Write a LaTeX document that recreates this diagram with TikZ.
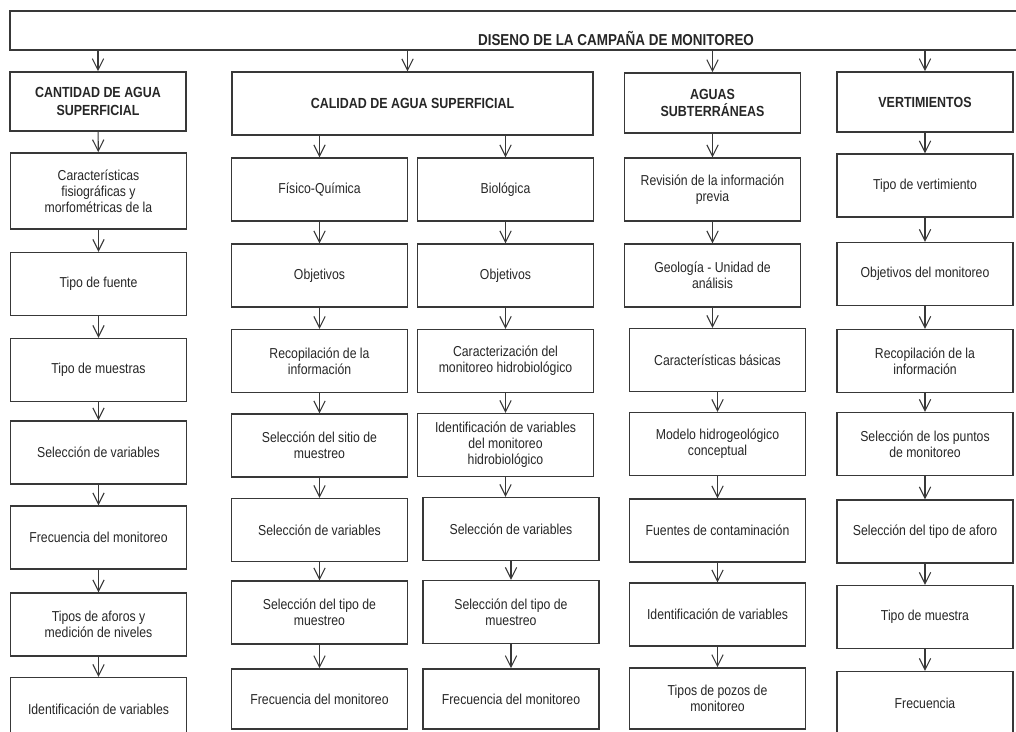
\documentclass[tikz,border=0pt]{standalone}
\usepackage{fontspec}
\setmainfont{Liberation Sans}[FakeStretch=0.85]
\usetikzlibrary{arrows.meta}
\definecolor{linegray}{HTML}{383838}

\begin{document}
\begin{tikzpicture}[x=0.03cm,y=-0.03cm,
	>={Straight Barb[length=3.4mm,width=3.4mm]},
	box/.style={shape=rectangle,draw=linegray,line width=1.4pt,minimum width=5.28cm,minimum height=1.88cm,align=center,inner sep=1pt,text=black!85,font=\fontsize{12.3}{13.6}\selectfont},
	head/.style={box,font=\bfseries\fontsize{12.5}{15}\selectfont},
	link/.style={->,draw=linegray,line width=0.9pt}]
	\useasboundingbox (0,0) rectangle (1016,731);
	\clip (0,0) rectangle (1016,731);
	\node[head,minimum width=36.36cm,minimum height=1.17cm,text height=0.87cm,text depth=0cm,font=\bfseries\fontsize{13.5}{15}\selectfont](top) at (616,30.5) {DISENO DE LA CAMPAÑA DE MONITOREO};
	% encabezados
	\node[head,minimum height=1.77cm](h1) at (98,101.5) {CANTIDAD DE AGUA\\SUPERFICIAL};
	\node[head,minimum width=10.83cm](cal) at (412.5,103.5) {CALIDAD DE AGUA SUPERFICIAL};
	\node[head,minimum height=1.8cm](sub) at (712.5,103) {AGUAS\\SUBTERRÁNEAS};
	\node[head,minimum height=1.8cm](ver) at (925,102) {VERTIMIENTOS};
	% cantidad
	\node[box,minimum height=2.28cm](c1) at (98.5,191) {Características\\fisiográficas y\\morfométricas de la};
	\node[box](c2) at (98.5,284) {Tipo de fuente};
	\node[box](c3) at (98.5,370) {Tipo de muestras};
	\node[box](c4) at (98.5,452.5) {Selección de variables};
	\node[box](c5) at (98.5,537.5) {Frecuencia del monitoreo};
	\node[box](c6) at (98.5,624.5) {Tipos de aforos y\\medición de niveles};
	\node[box](c7) at (98.5,709) {Identificación de variables};
	% fisico-quimica
	\node[box](f1) at (319.5,189.5) {Físico-Química};
	\node[box](f2) at (319.5,275.5) {Objetivos};
	\node[box](f3) at (319.5,361) {Recopilación de la\\información};
	\node[box](f4) at (319.5,445.5) {Selección del sitio de\\muestreo};
	\node[box](f5) at (319.5,530) {Selección de variables};
	\node[box](f6) at (319.5,612.5) {Selección del tipo de\\muestreo};
	\node[box,minimum height=1.8cm](f7) at (319.5,699) {Frecuencia del monitoreo};
	% biologica
	\node[box](b1) at (505.5,189.5) {Biológica};
	\node[box](b2) at (505.5,275.5) {Objetivos};
	\node[box](b3) at (505.5,361) {Caracterización del\\monitoreo hidrobiológico};
	\node[box](b4) at (505.5,445) {Identificación de variables\\del monitoreo\\hidrobiológico};
	\node[box](b5) at (511,529) {Selección de variables};
	\node[box](b6) at (511,612) {Selección del tipo de\\muestreo};
	\node[box,minimum height=1.8cm](b7) at (511,699) {Frecuencia del monitoreo};
	% subterraneas
	\node[box](a1) at (712.5,189.5) {Revisión de la información\\previa};
	\node[box](a2) at (712.5,275.5) {Geología - Unidad de\\análisis};
	\node[box](a3) at (717.5,360) {Características básicas};
	\node[box](a4) at (717.5,444) {Modelo hidrogeológico\\conceptual};
	\node[box](a5) at (717.5,530.5) {Fuentes de contaminación};
	\node[box](a6) at (717.5,614.5) {Identificación de variables};
	\node[box,minimum height=1.83cm](a7) at (717.5,698.5) {Tipos de pozos de\\monitoreo};
	% vertimientos
	\node[box](v1) at (925,185.5) {Tipo de vertimiento};
	\node[box](v2) at (925,274) {Objetivos del monitoreo};
	\node[box](v3) at (925,361) {Recopilación de la\\información};
	\node[box](v4) at (925,444) {Selección de los puntos\\de monitoreo};
	\node[box](v5) at (925,531.5) {Selección del tipo de aforo};
	\node[box](v6) at (925,617) {Tipo de muestra};
	\node[box](v7) at (925,703) {Frecuencia};
	% flechas
	\draw[link] (h1 |- top.south) -- (h1);
	\draw[link] (cal.north) ++(-5,0) coordinate (calin) (calin |- top.south) -- (calin);
	\draw[link] (sub |- top.south) -- (sub);
	\draw[link] (ver |- top.south) -- (ver);
	\draw[link] (h1) -- (c1);
	\draw[link] (c1) -- (c2);
	\draw[link] (c2) -- (c3);
	\draw[link] (c3) -- (c4);
	\draw[link] (c4) -- (c5);
	\draw[link] (c5) -- (c6);
	\draw[link] (c6) -- (c7);
	\draw[link] (f1 |- cal.south) -- (f1);
	\draw[link] (f1) -- (f2);
	\draw[link] (f2) -- (f3);
	\draw[link] (f3) -- (f4);
	\draw[link] (f4) -- (f5);
	\draw[link] (f5) -- (f6);
	\draw[link] (f6) -- (f7);
	\draw[link] (b1 |- cal.south) -- (b1);
	\draw[link] (b1) -- (b2);
	\draw[link] (b2) -- (b3);
	\draw[link] (b3) -- (b4);
	\draw[link] (b4.south) -- (b4.south |- b5.north);
	\draw[link] (b5) -- (b6);
	\draw[link] (b6) -- (b7);
	\draw[link] (sub) -- (a1);
	\draw[link] (a1) -- (a2);
	\draw[link] (a2.south) -- (a2.south |- a3.north);
	\draw[link] (a3) -- (a4);
	\draw[link] (a4) -- (a5);
	\draw[link] (a5) -- (a6);
	\draw[link] (a6) -- (a7);
	\draw[link] (ver) -- (v1);
	\draw[link] (v1) -- (v2);
	\draw[link] (v2) -- (v3);
	\draw[link] (v3) -- (v4);
	\draw[link] (v4) -- (v5);
	\draw[link] (v5) -- (v6);
	\draw[link] (v6) -- (v7);
\end{tikzpicture}
\end{document}
